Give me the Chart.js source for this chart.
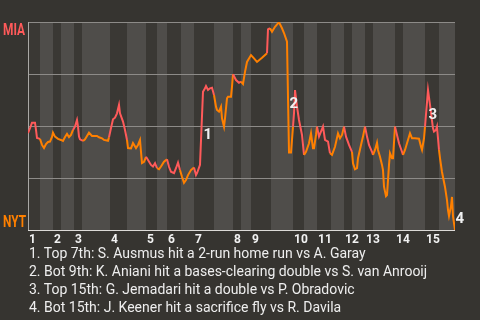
<!DOCTYPE html>
<html>
<head>
<meta charset="utf-8">
<script src="https://cdn.jsdelivr.net/npm/chart.js@4"></script>
<style>
html, body { margin: 0; padding: 0; background: #363430; }
#wrap { position: relative; width: 480px; height: 320px; }
#notes { position: absolute; left: 29px; top: 244px; font: 14px Roboto, sans-serif; line-height: 18px; color: #eeeeee; white-space: nowrap; }
</style>
</head>
<body>
<div id="wrap">
  <canvas id="wp" width="480" height="320"></canvas>
  <div id="notes"></div>
</div>
<script>
// pitch number of every logged play, and MIA win probability (%) after it
const pitch = [
  0, 2, 4, 7, 8, 9, 12,
  14, 16, 18, 20, 22, 24,
  25, 27, 30, 33,
  35, 37, 39, 41, 43, 45,
  47, 49, 50, 51, 52,
  55, 57, 59, 61, 64, 66, 69, 71, 74, 76, 80, 81,
  83, 85, 87, 89, 91, 92, 95, 97, 99,
  100, 103, 105, 108, 110, 112, 113, 114, 116,
  118, 120, 123, 125, 127, 129,
  131, 133, 136, 139,
  141, 143, 146, 148, 150, 152,
  154, 156, 158, 160, 163, 166,
  168, 169, 172, 175, 177, 178, 180, 182, 184, 186,
  188, 189, 191, 193, 194, 196, 197, 199, 200, 203, 204,
  205, 208, 211, 213,
  215, 217, 219, 223,
  226, 229, 234, 239, 240, 242,
  244, 247, 251, 254, 256, 259, 261, 263, 265,
  266, 267, 269, 271, 274, 276,
  278, 281, 283, 285, 286, 288, 289,
  291, 295, 297, 300, 302,
  304, 307, 310, 312, 314, 316,
  318, 321, 324,
  325, 327, 329, 330, 333, 335, 337,
  339, 341, 344,
  345, 347, 349, 350, 352, 354, 355, 356, 358, 359, 360, 361, 362, 364, 365, 367,
  369, 371, 374,
  375, 377, 379, 382, 384, 387, 391, 393, 394, 396, 397,
  400, 402, 403, 405, 406, 408, 409, 411,
  412, 414, 417, 419, 420, 421, 423, 424, 425, 427
];
const winProb = [
  46.6, 49.0, 51.6, 51.6, 48.1, 44.2, 43.8,
  40.9, 39.4, 41.3, 42.3, 42.5, 44.7,
  46.8, 44.9, 43.8, 43.3,
  42.8, 44.7, 46.2, 44.7, 45.7, 48.1,
  49.7, 52.9, 49.7, 44.9, 43.6,
  42.8, 43.6, 45.2, 46.8, 45.2, 45.2, 45.2, 44.6, 44.1, 43.3, 42.9, 44.6,
  49.0, 53.2, 54.0, 56.1, 60.1, 56.1, 52.1, 48.1, 43.3,
  39.4, 39.2, 41.8, 39.4, 40.9, 43.3, 37.6, 32.2, 32.8,
  35.2, 33.7, 31.3, 30.5, 32.1, 29.7,
  29.2, 30.5, 32.8, 34.0,
  30.4, 28.0, 27.3, 29.7, 32.4, 28.8,
  25.6, 22.7, 24.0, 26.4, 28.8, 30.1,
  26.4, 27.3, 31.3, 66.5, 68.1, 69.2, 67.3, 68.1, 68.4, 64.9,
  59.3, 57.7, 56.9, 59.3, 53.7, 49.7, 53.7, 63.3, 64.1, 64.1, 68.9,
  74.9, 72.1, 70.8, 71.3,
  70.2, 76.0, 80.8, 84.1,
  82.5, 80.8, 82.8, 85.0, 96.5, 97.0,
  95.3, 97.7, 99.9, 97.0, 94.7, 90.5, 37.2, 37.2, 49.7,
  56.1, 67.3, 59.3, 52.9, 45.7, 36.1,
  37.6, 41.7, 46.5, 39.3, 39.3, 45.7, 49.7,
  44.9, 49.7, 43.3, 42.5, 36.9,
  36.1, 40.0, 46.5, 44.1, 45.7, 49.7,
  44.9, 40.9, 37.6,
  32.1, 29.2, 29.7, 34.5, 40.9, 44.9, 49.7,
  44.9, 40.9, 37.6,
  36.1, 38.5, 42.0, 38.5, 35.2, 31.3, 28.8, 20.8, 16.3, 16.8, 24.0, 31.3, 36.9, 34.5, 34.5, 49.7,
  45.7, 41.7, 37.6,
  36.1, 38.5, 41.7, 46.5, 44.1, 44.1, 43.9, 40.0, 38.5, 44.1, 49.7,
  67.3, 60.1, 56.3, 48.9, 47.3, 48.1, 49.7, 38.5,
  34.6, 27.9, 20.7, 14.4, 9.6, 6.7, 11.5, 15.9, 6.7, 0
];
// first pitch of each half inning (top 1st, bottom 1st, top 2nd, ...)
const halfStarts = [0, 12, 25, 33, 46, 54, 82, 99, 118, 129, 139, 153, 166, 186, 205, 213,
                    223, 243, 265, 276, 289, 303, 316, 324, 337, 345, 367, 375, 397, 411];
const lastPitch = 427;
// pitch spans credited to MIA (drawn in the MIA colour)
const miaSpans = [[0, 12], [46, 54], [82, 99], [118, 129], [139, 153], [166, 186], [205, 213],
                  [239, 243], [265, 276], [289, 303], [316, 324], [337, 345], [367, 375], [397, 411]];
const innings = ['1','2','3','4','5','6','7','8','9','10','11','12','13','14','15'];
const teams = ['MIA', 'NYT'];
// key plays: pitch number of each numbered play
const keyPlays = [175, 261, 400, 427];
const notes = [
  '1. Top 7th: S. Ausmus hit a 2-run home run vs A. Garay',
  '2. Bot 9th: K. Aniani hit a bases-clearing double vs S. van Anrooij',
  '3. Top 15th: G. Jemadari hit a double vs P. Obradovic',
  '4. Bot 15th: J. Keener hit a sacrifice fly vs R. Davila'
];

const RED = '#ff5a5a';
const ORANGE = '#ff8000';
const FONT = 'Roboto, "Noto Sans", sans-serif';

document.getElementById('notes').innerHTML = notes.map(n => '<div>' + n + '</div>').join('');

const isMia = p => miaSpans.some(([a, b]) => p >= a && p < b);

const backdrop = {
  id: 'backdrop',
  beforeDatasetsDraw(chart) {
    const { ctx, chartArea: a, scales: { x, y } } = chart;
    ctx.save();
    halfStarts.forEach((s, i) => {
      const e = i + 1 < halfStarts.length ? halfStarts[i + 1] : lastPitch;
      const x0 = Math.round(x.getPixelForValue(s));
      const x1 = Math.round(x.getPixelForValue(e));
      ctx.fillStyle = i % 2 === 0 ? '#3a3834' : '#4f4d4a';
      ctx.fillRect(x0, a.top, x1 - x0, a.bottom - a.top);
    });
    ctx.lineWidth = 1;
    ctx.strokeStyle = '#8d8b88';
    [25, 50, 75, 100].forEach(v => {
      const py = Math.round(y.getPixelForValue(v)) + 0.5;
      ctx.beginPath(); ctx.moveTo(a.left, py); ctx.lineTo(a.right, py); ctx.stroke();
    });
    ctx.strokeStyle = '#aaa8a5';
    ctx.beginPath(); ctx.moveTo(a.left + 0.5, a.top); ctx.lineTo(a.left + 0.5, a.bottom); ctx.stroke();
    ctx.strokeStyle = '#dcdad7';
    const by = Math.round(y.getPixelForValue(0)) + 0.5;
    ctx.beginPath(); ctx.moveTo(a.left, by); ctx.lineTo(a.right, by); ctx.stroke();

    // team names on the y axis
    ctx.font = 'bold 16px ' + FONT;
    ctx.textAlign = 'left';
    ctx.textBaseline = 'alphabetic';
    ctx.fillStyle = RED;
    ctx.fillText(teams[0], 3, y.getPixelForValue(100) + 13, 22);
    ctx.fillStyle = ORANGE;
    ctx.fillText(teams[1], 3, y.getPixelForValue(0) - 3, 23);

    // inning numbers at the start of each top half
    ctx.font = 'bold 12px ' + FONT;
    ctx.fillStyle = '#f2f2f2';
    innings.forEach((lab, i) => {
      ctx.fillText(lab, x.getPixelForValue(halfStarts[i * 2]) + 1, a.bottom + 13);
    });
    ctx.restore();
  },
  afterDatasetsDraw(chart) {
    const { ctx, chartArea: a } = chart;
    const pts = chart.getDatasetMeta(0).data;
    ctx.save();
    ctx.font = 'bold 15px ' + FONT;
    ctx.fillStyle = '#f0f0f0';
    ctx.textAlign = 'left';
    ctx.textBaseline = 'middle';
    keyPlays.forEach((p, n) => {
      const i = pitch.indexOf(p);
      const p1 = pts[i], p0 = pts[i - 1];
      const ly = Math.min((p0.y + p1.y) / 2 + 7, a.bottom - 11);
      ctx.fillText(String(n + 1), p1.x + 0.5, ly);
    });
    ctx.restore();
  }
};

new Chart(document.getElementById('wp'), {
  type: 'line',
  data: {
    datasets: [{
      data: pitch.map((p, i) => ({ x: p, y: winProb[i] })),
      borderWidth: 2,
      borderColor: RED,
      pointRadius: 0,
      tension: 0,
      segment: {
        borderColor: c => isMia((c.p0.parsed.x + c.p1.parsed.x) / 2) ? RED : ORANGE
      }
    }]
  },
  options: {
    responsive: false,
    animation: false,
    events: [],
    layout: { padding: { left: 28, right: 25, top: 22, bottom: 90 } },
    plugins: { legend: { display: false }, tooltip: { enabled: false } },
    scales: {
      x: { type: 'linear', min: 0, max: lastPitch, display: false },
      y: { min: 0, max: 100, display: false }
    }
  },
  plugins: [backdrop]
});
</script>
</body>
</html>
